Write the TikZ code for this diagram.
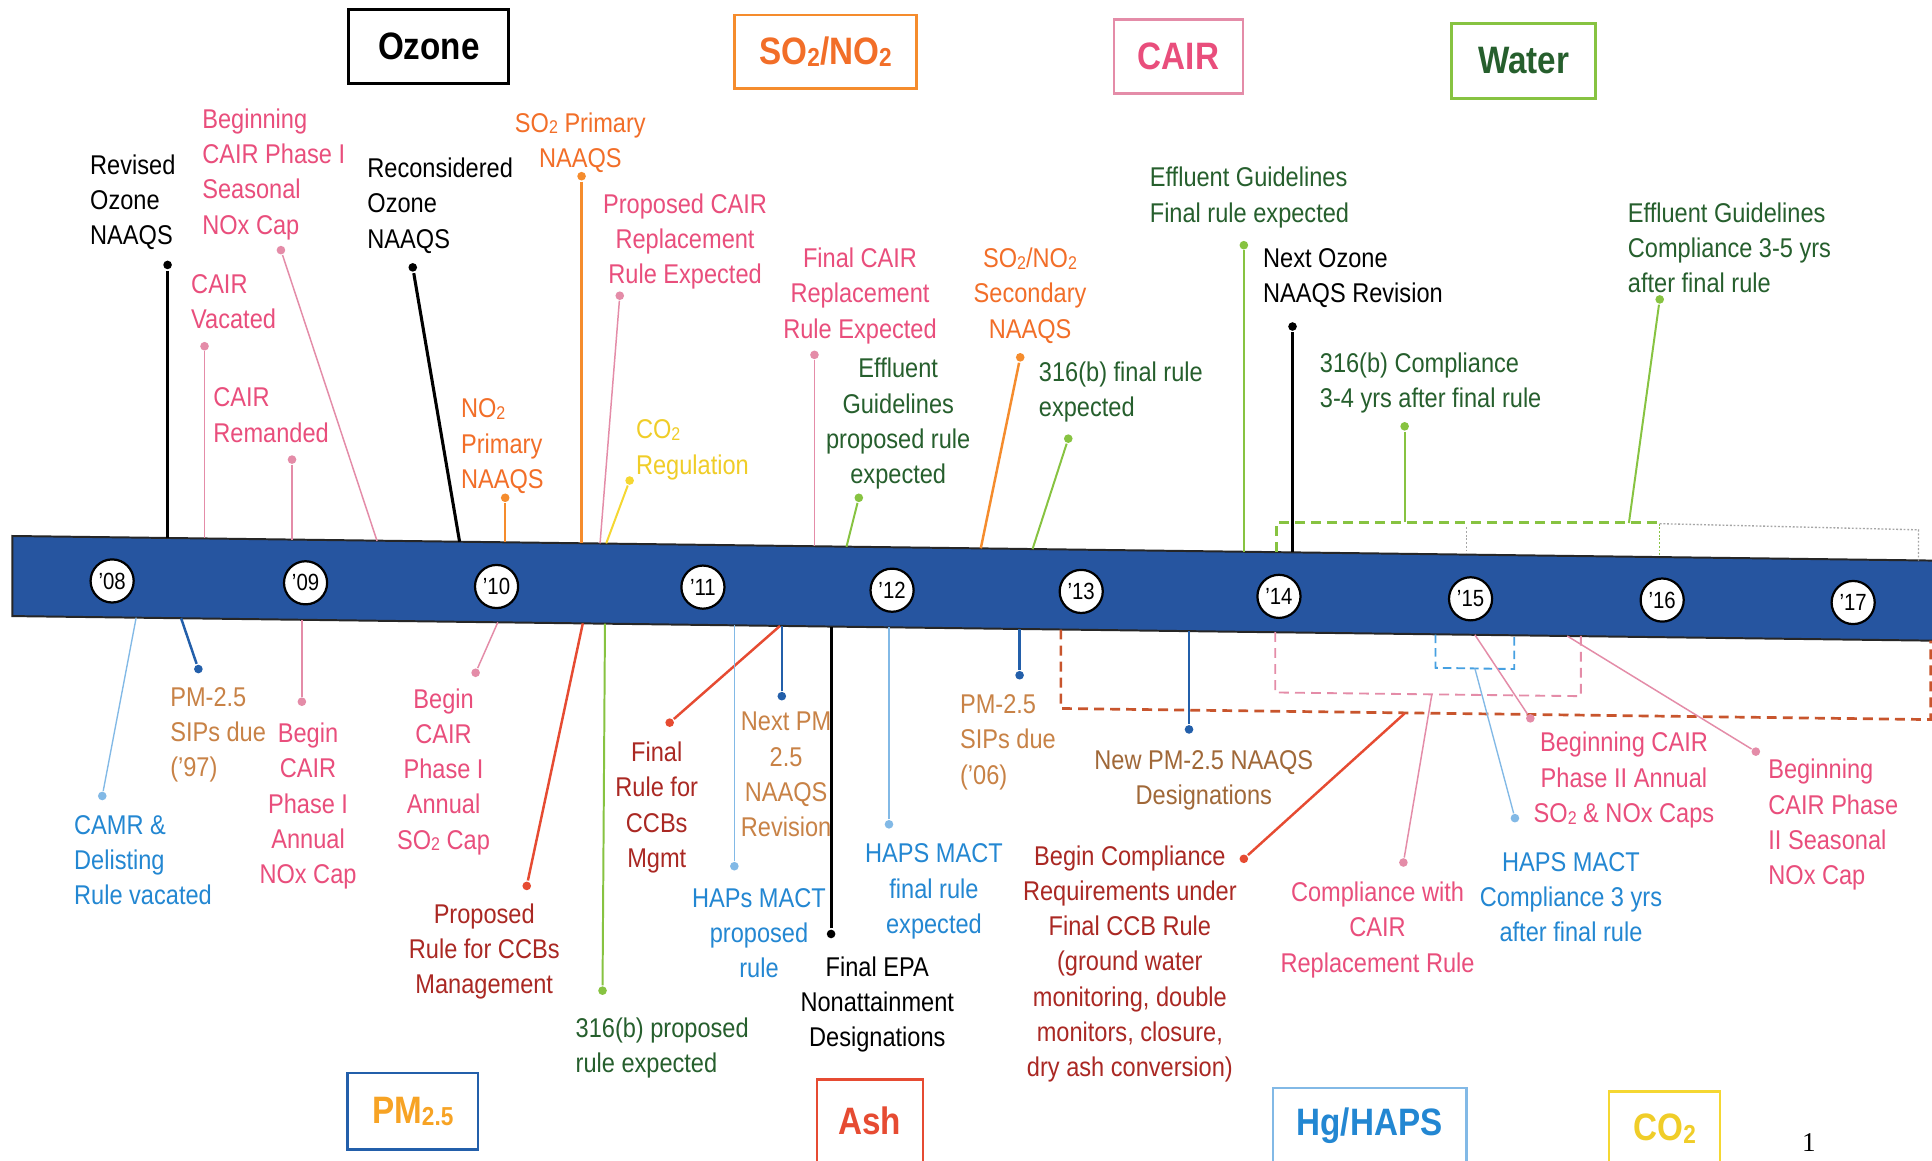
\documentclass[tikz,border=0pt]{standalone}
\usepackage{fontspec}
\setmainfont{Liberation Sans}[FakeStretch=0.87]
\newfontfamily\pgnumfont{Liberation Serif}
\usepackage{graphicx}
\newcommand\sbs[1]{\raisebox{-0.12ex}{\scalebox{0.68}{#1}}}
\definecolor{pinkT}{RGB}{233,78,124}
\definecolor{pinkL}{RGB}{228,140,168}
\definecolor{orangeT}{RGB}{242,110,40}
\definecolor{orangeL}{RGB}{245,140,45}
\definecolor{yellowT}{RGB}{240,205,40}
\definecolor{yellowL}{RGB}{245,215,50}
\definecolor{greenT}{RGB}{38,95,45}
\definecolor{greenL}{RGB}{135,195,65}
\definecolor{blueT}{RGB}{35,135,210}
\definecolor{blueL}{RGB}{130,185,230}
\definecolor{pmT}{RGB}{200,130,70}
\definecolor{pmL}{RGB}{35,95,170}
\definecolor{redT}{RGB}{170,40,35}
\definecolor{redL}{RGB}{230,75,50}
\definecolor{bandBlue}{RGB}{38,85,160}
\definecolor{dredC}{RGB}{200,85,45}
\definecolor{dblueC}{RGB}{70,160,225}
\newcommand\tlev[6]{%
  \node[dotn,#6] (#1) at (#2,#3) {};
  \coordinate (#1-b) at (#4,#5);
  \draw[#6] (#1) -- (#1-b);
}
\begin{document}
\begin{tikzpicture}[x=1pt,y=-1pt,
  txt/.style={inner sep=0pt, font=\fontsize{22}{28.6}\selectfont},
  tl/.style={txt, align=left, anchor=north west},
  tc/.style={txt, align=center, anchor=north},
  dotn/.style={circle, inner sep=0pt, minimum size=7pt, fill, draw=none},
  lblack/.style={color=black, line width=2.5pt},
  lpink/.style={color=pinkL, line width=1.2pt},
  lorange/.style={color=orangeL, line width=2pt},
  lyellow/.style={color=yellowL, line width=1.6pt},
  lgreen/.style={color=greenL, line width=1.6pt},
  lblue/.style={color=blueL, line width=1.1pt},
  lpm/.style={color=pmL, line width=2pt},
  lred/.style={color=redL, line width=2pt},
  legend/.style={draw, line width=2pt, inner sep=0pt, font=\fontsize{31}{31}\selectfont\bfseries},
  yr/.style={circle, draw=black, line width=1.8pt, fill=white, minimum size=35pt, inner sep=0pt, font=\fontsize{19}{19}\selectfont},
  dred/.style={draw=dredC, line width=2.2pt, dash pattern=on 8pt off 5pt},
  dpink/.style={draw=pinkL, line width=1.5pt, dash pattern=on 8pt off 5pt},
  dblue/.style={draw=dblueC, line width=1.5pt, dash pattern=on 7pt off 4pt},
  dgreen/.style={draw=greenL, line width=1.8pt, dash pattern=on 8pt off 5pt},
  dgrey/.style={draw=black!35, line width=1.1pt, dash pattern=on 1.5pt off 1.5pt}]
\useasboundingbox (0,0) rectangle (1568,942);
\fill[white] (0,0) rectangle (1568,942);

% legend boxes
\node[legend, draw=black, text=black, line width=2.5pt, minimum width=130pt, minimum height=60pt] (lg-oz) at (348,38) {Ozone};
\node[legend, draw=orangeL, text=orangeT, minimum width=148pt, minimum height=60pt] (lg-so) at (670,42) {SO\sbs{2}/NO\sbs{2}};
\node[legend, draw=pinkL, text=pinkT, minimum width=105pt, minimum height=60pt] (lg-cair) at (956.5,46) {CAIR};
\node[legend, draw=greenL, text=greenT, minimum width=117pt, minimum height=61pt] (lg-wat) at (1236.5,49.5) {Water};
\node[legend, draw=pmL, text=orangeL!80!yellow, minimum width=106pt, minimum height=62pt] (lg-pm) at (335,902) {PM\sbs{2.5}};
\node[legend, draw=redL, text=redL, minimum width=86pt, minimum height=68pt] (lg-ash) at (706,910) {Ash};
\node[legend, draw=blueL, text=blueT, minimum width=157pt, minimum height=62pt] (lg-hg) at (1111.5,914) {Hg/HAPS};
\node[legend, draw=yellowL, text=yellowT, minimum width=90pt, minimum height=60pt] (lg-co) at (1351,916) {CO\sbs{2}};
\node[inner sep=0pt, font=\pgnumfont\fontsize{22}{22}\selectfont] (pgn) at (1468,927) {1};

% band
\draw[fill=bandBlue, draw=black!85, line width=1.6pt] (10,435) -- (1572,455) -- (1572,520) -- (10,500) -- cycle;
\foreach \x/\y/\t in {91/471.5/08,248/473/09,403/476/10,570.5/476.5/11,724/479/12,877.5/480/13,1038/484/14,1193.5/486/15,1349/487/16,1504/489/17}
  \node[yr] (y\t) at (\x,\y) {’\t};

% dashed boxes
\draw[dgreen] (1036,448) -- (1036,424) -- (1347,424);
\draw[dgrey] (1347,425) -- (1557,430) -- (1557,455);
\draw[dgrey] (1190,428) -- (1190,450);
\draw[dgrey, draw=greenL] (1347,425) -- (1347,452);
\draw[dred] (861,511) -- (861,575) -- (1567,584) -- (1567,520);
\draw[dpink] (1035,513) -- (1035,562) -- (1283,565) -- (1283,516);
\draw[dblue] (1165,515) -- (1165,542) -- (1229,543) -- (1229,516);

% ---- top events
\node[tl] (t-rev) at (73,121) {\strut Revised\\Ozone\\NAAQS};
\tlev{rev}{136}{215}{136}{437}{lblack}
\node[tl, text=pinkT] (t-bcs) at (164,84) {\strut Beginning\\CAIR Phase I\\Seasonal\\NOx Cap};
\tlev{bcs}{228}{203}{306}{439}{lpink}
\node[tl, text=pinkT] (t-cv) at (155,218) {\strut CAIR\\Vacated};
\tlev{cv}{166}{281}{166}{437}{lpink}
\node[tl, text=pinkT] (t-cr) at (173,310) {\strut CAIR\\Remanded};
\tlev{cr}{237}{373}{237}{438}{lpink}
\node[tl] (t-rec) at (298,124) {\strut Reconsidered\\Ozone\\NAAQS};
\tlev{rec}{335}{217}{373}{439.7}{lblack}
\node[tl, text=orangeT] (t-no2p) at (374,319) {\strut NO\sbs{2}\\Primary\\NAAQS};
\tlev{no2p}{410}{404}{410}{440}{lorange}
\node[tc, text=orangeT] (t-so2p) at (471,87) {\strut SO\sbs{2} Primary\\NAAQS};
\tlev{so2p}{472}{143}{472}{441}{lorange}
\node[tc, text=pinkT] (t-pcair) at (556,153) {\strut Proposed CAIR\\Replacement\\Rule Expected};
\tlev{pcair}{503}{240}{487}{441}{lpink}
\node[tl, text=yellowT] (t-co2r) at (516,336) {\strut CO\sbs{2}\\Regulation};
\tlev{co2r}{511}{390}{492}{441}{lyellow}
\node[tc, text=pinkT] (t-fcair) at (698,197) {\strut Final CAIR\\Replacement\\Rule Expected};
\tlev{fcair}{661}{288}{661}{443.4}{lpink}
\node[tc, text=greenT] (t-effp) at (729,286.5) {\strut Effluent\\Guidelines\\proposed rule\\expected};
\tlev{effp}{697}{404}{687}{443.7}{lgreen}
\node[tc, text=orangeT] (t-so2s) at (836,197) {\strut SO\sbs{2}/NO\sbs{2}\\Secondary\\NAAQS};
\tlev{so2s}{828}{290}{796}{445}{lorange}
\node[tl, text=greenT] (t-b316f) at (843,289) {\strut 316(b) final rule\\expected};
\tlev{b316f}{867}{356}{838}{445.6}{lgreen}
\node[tl, text=greenT] (t-efff) at (933,131.5) {\strut Effluent Guidelines\\Final rule expected};
\tlev{efff}{1009.5}{199}{1009.5}{447.8}{lgreen}
\node[tl] (t-noz) at (1025,197) {\strut Next Ozone\\NAAQS Revision};
\tlev{noz}{1049}{265}{1049}{448.3}{lblack}
\node[tl, text=greenT] (t-b316c) at (1071,282) {\strut 316(b) Compliance\\3-4 yrs after final rule};
\tlev{b316c}{1140}{346}{1140}{424}{lgreen}
\node[tl, text=greenT] (t-effc) at (1321,160) {\strut Effluent Guidelines\\Compliance 3-5 yrs\\after final rule};
\tlev{effc}{1347}{243}{1322}{424.5}{lgreen}

% ---- bottom events
\node[tl, text=blueT] (t-camr) at (60,657) {\strut CAMR \&\\Delisting\\Rule vacated};
\tlev{camr}{83}{646}{110.5}{501.3}{lblue}
\node[tl, text=pmT] (t-pm97) at (138,553) {\strut PM-2.5\\SIPs due\\(’97)};
\tlev{pm97}{161}{543}{147}{501.8}{lpm}
\node[tc, text=pinkT] (t-bcpa) at (250,582.5) {\strut Begin\\CAIR\\Phase I\\Annual\\NOx Cap};
\tlev{bcpa}{245}{569.5}{245}{503}{lpink}
\node[tc, text=pinkT] (t-bcps) at (360,554.5) {\strut Begin\\CAIR\\Phase I\\Annual\\SO\sbs{2} Cap};
\tlev{bcps}{386}{546}{404}{505.1}{lpink}
\node[tc, text=redT] (t-prccb) at (393,729) {\strut Proposed\\Rule for CCBs\\Management};
\tlev{prccb}{427.5}{719}{473}{505.9}{lred}
\node[tl, text=greenT] (t-b316p) at (467,822) {\strut 316(b) proposed\\rule expected};
\tlev{b316p}{489}{804}{491}{506.2}{lgreen}
\node[tc, text=redT] (t-frccb) at (533,598) {\strut Final\\Rule for\\CCBs\\Mgmt};
\tlev{frccb}{543.5}{586.5}{633}{508}{lred}
\node[tc, text=blueT] (t-hapsp) at (616,716) {\strut HAPs MACT\\proposed\\rule};
\tlev{hapsp}{596}{703}{596}{507.5}{lblue}
\node[tc, text=pmT] (t-npm) at (638,573) {\strut Next PM\\2.5\\NAAQS\\Revision};
\tlev{npm}{634.5}{565}{634.5}{508}{lpm}
\node[tc] (t-fepa) at (712,772) {\strut Final EPA\\Nonattainment\\Designations};
\tlev{fepa}{674.5}{758}{674.5}{508.5}{lblack}
\node[tc, text=blueT] (t-hapsf) at (758,680) {\strut HAPS MACT\\final rule\\expected};
\tlev{hapsf}{721.5}{669}{721.5}{509.1}{lblue}
\node[tl, text=pmT] (t-pm06) at (779,559) {\strut PM-2.5\\SIPs due\\(’06)};
\tlev{pm06}{827.5}{548}{827.5}{510.5}{lpm}
\node[tc, text=pmT!80!black] (t-npmd) at (977,604) {\strut New PM-2.5 NAAQS\\Designations};
\tlev{npmd}{965}{592}{965}{512.3}{lpm}
\node[tc, text=redT] (t-bcomp) at (917,682) {\strut Begin Compliance\\Requirements under\\Final CCB Rule\\(ground water\\monitoring, double\\monitors, closure,\\dry ash conversion)};
\tlev{bcomp}{1009.5}{697}{1140}{579}{lred}
\node[tc, text=pinkT] (t-ccair) at (1118,711.5) {\strut Compliance with\\CAIR\\Replacement Rule};
\tlev{ccair}{1139}{700}{1162}{564}{lpink}
\node[tc, text=blueT] (t-hapsc) at (1275,687) {\strut HAPS MACT\\Compliance 3 yrs\\after final rule};
\tlev{hapsc}{1229.5}{664}{1197}{542.5}{lblue}
\node[tc, text=pinkT] (t-bc2a) at (1318,590) {\strut Beginning CAIR\\Phase II Annual\\SO\sbs{2} \& NOx Caps};
\tlev{bc2a}{1242}{583}{1197}{515.2}{lpink}
\node[tl, text=pinkT] (t-bc2s) at (1435,612) {\strut Beginning\\CAIR Phase\\II Seasonal\\NOx Cap};
\tlev{bc2s}{1425}{610}{1272}{516.2}{lpink}
\end{tikzpicture}
\end{document}
